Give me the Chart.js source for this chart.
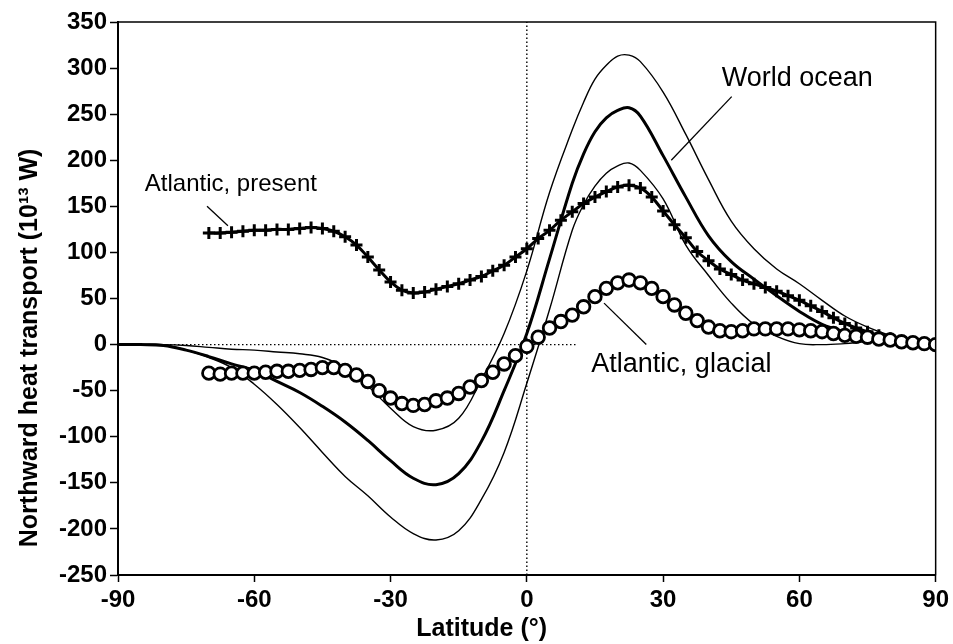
<!DOCTYPE html>
<html>
<head>
<meta charset="utf-8">
<script src="https://cdn.jsdelivr.net/npm/chart.js@4.4.1/dist/chart.umd.min.js"></script>
<style>
  html, body { margin: 0; padding: 0; background: #fff; }
  #wrap { width: 953px; height: 644px; }
</style>
</head>
<body>
<div id="wrap"><canvas id="heatChart"></canvas></div>
<script>
// World ocean: mean and the two envelope curves
const worldLat = [-90, -85, -80, -75, -70, -65, -60, -55, -50, -45, -40, -35, -30, -25, -20, -15, -10, -5, 0,
                  5, 10, 12.5, 15, 17.5, 20, 22.5, 25, 30, 35, 40, 45, 50, 55, 60, 65, 70, 75, 80, 85, 90];
const worldMean = [0, 0, -1, -6, -13, -21, -28, -40, -52, -67, -84, -104, -126, -145, -152, -140, -105, -50, 12,
                   93, 175, 207, 231, 246, 254, 257, 248, 205, 160, 118, 90, 71, 53, 36, 22, 14, 9, 5, 2, 0];
const worldMax = [0, 0, 0, -1, -3, -5, -6, -8, -10, -14, -25, -45, -69, -89, -93, -80, -38, 12, 80,
                  165, 233, 263, 288, 303, 313, 314, 307, 274, 228, 179, 134, 104, 82, 66, 48, 31, 19, 10, 4, 0];
const worldMin = [0, 0, 0, -6, -14, -25, -43, -65, -90, -117, -143, -164, -187, -205, -212, -202, -168, -117, -42,
                  38, 124, 152, 172, 186, 194, 197, 189, 158, 108, 75, 45, 22, 9, 1, 0, 1, 3, 3, 1, 0];

// Atlantic series, one marker every 2.5 degrees
const atlLat = [-70, -67.5, -65, -62.5, -60, -57.5, -55, -52.5, -50, -47.5, -45, -42.5, -40, -37.5, -35, -32.5,
                -30, -27.5, -25, -22.5, -20, -17.5, -15, -12.5, -10, -7.5, -5, -2.5, 0, 2.5, 5, 7.5,
                10, 12.5, 15, 17.5, 20, 22.5, 25, 27.5, 30, 32.5, 35, 37.5, 40, 42.5, 45, 47.5,
                50, 52.5, 55, 57.5, 60, 62.5, 65, 67.5, 70, 72.5, 75, 77.5, 80, 82.5, 85, 87.5, 90];
const atlPresent = [121, 121, 122, 123, 124, 124, 125, 125, 126, 127, 126, 123, 117, 108, 95, 81,
                    68, 59, 56, 57, 60, 63, 66, 70, 74, 80, 86, 95, 104, 115, 124, 135,
                    144, 153, 160, 166, 171, 173, 170, 160, 145, 130, 116, 101, 91, 82, 76, 70,
                    66, 62, 58, 53, 48, 42, 36, 29, 23, 18, 14, 10, 7, 4, 2, 1, 0];
const atlGlacial = [-31, -32, -31, -31, -31, -30, -29, -29, -28, -27, -25, -25, -28, -33, -40, -50,
                    -58, -64, -66, -65, -61, -58, -53, -46, -39, -30, -21, -12, -2, 8, 18, 25,
                    32, 41, 52, 61, 67, 70, 67, 61, 52, 43, 34, 26, 19, 15, 14, 15,
                    17, 17, 17, 17, 16, 15, 14, 12, 10, 9, 8, 6, 5, 3, 2, 1, 0];

// axis ticks
const xTicks = [-90, -60, -30, 0, 30, 60, 90];
const yTicks = [-250, -200, -150, -100, -50, 0, 50, 100, 150, 200, 250, 300, 350];

// reference lines (dotted)
const zeroLineLat = [-90, 11];
const equatorVal = [-250, 350];

// curve labels and their leader lines
const labelText = ['Atlantic, present', 'World ocean', 'Atlantic, glacial'];
const labelLat = [-84.1, 42.9, 14.2];
const labelVal = [174, 289, -22];
const leaderLat = [[-70.4, -65.8], [45.1, 31.8], [17, 26.3]];
const leaderVal = [[150, 129], [269, 200], [45, 0]];

const FONT = "'Liberation Sans', Arial, Helvetica, sans-serif";
const SP = '\u00a0';

function pts(xs, ys) {
    return xs.map((x, i) => ({ x: x, y: ys[i] }));
}

const leaderSets = leaderLat.map((lats, i) => ({
    data: pts(lats, leaderVal[i]),
    showLine: true,
    borderColor: '#000',
    borderWidth: 1.3,
    pointRadius: 0
}));

// text next to the curves, placed through the scales
const curveLabels = {
    id: 'curveLabels',
    afterDatasetsDraw(chart) {
        const ctx = chart.ctx;
        const xs = chart.scales.x, ys = chart.scales.y;
        const sizes = [24, 27, 27];
        ctx.save();
        ctx.fillStyle = '#000';
        ctx.textAlign = 'left';
        ctx.textBaseline = 'middle';
        labelText.forEach((t, i) => {
            ctx.font = sizes[i] + 'px ' + FONT;
            ctx.fillText(t, xs.getPixelForValue(labelLat[i]), ys.getPixelForValue(labelVal[i]));
        });
        ctx.restore();
    }
};

// frame round the plot area
const frame = {
    id: 'frame',
    afterDraw(chart) {
        const a = chart.chartArea, ctx = chart.ctx;
        ctx.save();
        ctx.strokeStyle = '#000';
        ctx.lineWidth = 1.5;
        ctx.strokeRect(a.left, a.top, a.right - a.left, a.bottom - a.top);
        ctx.restore();
    }
};

new Chart(document.getElementById('heatChart'), {
    type: 'scatter',
    data: {
        datasets: [
            {
                label: 'Atlantic, glacial',
                data: pts(atlLat, atlGlacial),
                showLine: false,
                pointStyle: 'circle',
                pointRadius: 6.3,
                pointBorderWidth: 2.8,
                pointBorderColor: '#000',
                pointBackgroundColor: '#fff'
            },
            {
                label: 'Atlantic, present',
                data: pts(atlLat, atlPresent),
                showLine: true,
                borderColor: '#000',
                borderWidth: 3,
                tension: 0.4,
                pointStyle: 'cross',
                pointRadius: 6,
                pointBorderWidth: 3,
                pointBorderColor: '#000'
            },
            {
                label: 'World ocean',
                data: pts(worldLat, worldMean),
                showLine: true,
                borderColor: '#000',
                borderWidth: 3,
                tension: 0.4,
                pointRadius: 0
            },
            {
                label: 'World max',
                data: pts(worldLat, worldMax),
                showLine: true,
                borderColor: '#000',
                borderWidth: 1.4,
                tension: 0.4,
                pointRadius: 0
            },
            {
                label: 'World min',
                data: pts(worldLat, worldMin),
                showLine: true,
                borderColor: '#000',
                borderWidth: 1.4,
                tension: 0.4,
                pointRadius: 0
            },
            ...leaderSets,
            {
                data: pts(zeroLineLat, [0, 0]),
                showLine: true,
                borderColor: '#000',
                borderWidth: 1.4,
                borderDash: [1.5, 2.5],
                pointRadius: 0
            },
            {
                data: pts([0, 0], equatorVal),
                showLine: true,
                borderColor: '#000',
                borderWidth: 1.4,
                borderDash: [1.5, 2.5],
                pointRadius: 0
            }
        ]
    },
    options: {
        responsive: true,
        maintainAspectRatio: false,
        animation: false,
        layout: { padding: { top: 22, right: 15, left: 0, bottom: 0 } },
        plugins: {
            legend: { display: false },
            tooltip: { enabled: false }
        },
        scales: {
            x: {
                type: 'linear',
                min: -90,
                max: 90,
                afterBuildTicks: (s) => { s.ticks = xTicks.map(v => ({ value: v })); },
                afterFit: (s) => { s.height = 69; },
                ticks: { color: '#000', padding: 4, font: { family: FONT, size: 24, weight: 'bold' } },
                grid: { drawOnChartArea: false, drawTicks: true, tickLength: 7, tickColor: '#000', tickWidth: 1.5 },
                border: { display: true, color: '#000', width: 2 },
                title: {
                    display: true,
                    // trailing spaces push the title left of centre, as in the original
                    text: 'Latitude (°)' + SP.repeat(13),
                    color: '#000',
                    padding: { top: 0, bottom: 0 },
                    font: { family: FONT, size: 25, weight: 'bold' }
                }
            },
            y: {
                type: 'linear',
                min: -250,
                max: 350,
                afterBuildTicks: (s) => { s.ticks = yTicks.map(v => ({ value: v })); },
                afterFit: (s) => { s.width = 118; },
                ticks: { color: '#000', padding: 3, font: { family: FONT, size: 24, weight: 'bold' } },
                grid: { drawOnChartArea: false, drawTicks: true, tickLength: 8, tickColor: '#000', tickWidth: 1.5 },
                border: { display: true, color: '#000', width: 2 },
                title: {
                    display: true,
                    align: 'start',
                    text: SP.repeat(4) + 'Northward heat transport (10¹³ W)',
                    color: '#000',
                    padding: { top: 15, bottom: 0 },
                    font: { family: FONT, size: 25, weight: 'bold' }
                }
            }
        }
    },
    plugins: [curveLabels, frame]
});
</script>
</body>
</html>
